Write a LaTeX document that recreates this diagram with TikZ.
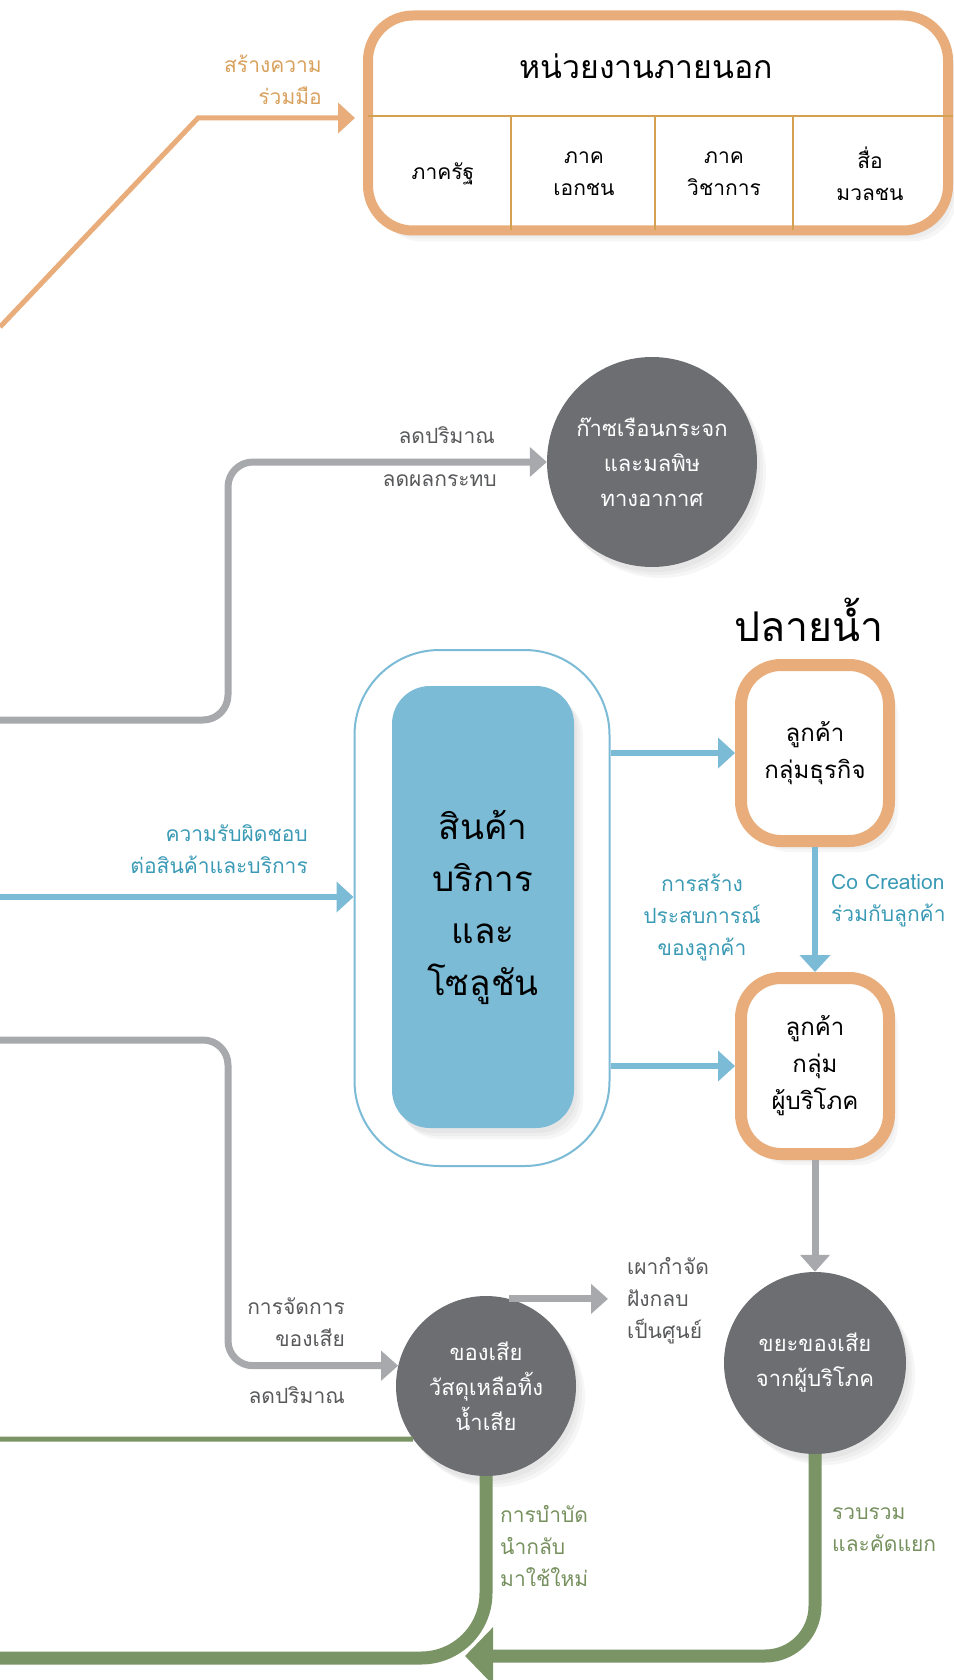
\documentclass[tikz,border=0pt]{standalone}
\usepackage{fontspec}
\setmainfont{Loma}[Script=Thai]
\usetikzlibrary{arrows.meta,calc,positioning,shadows}
\definecolor{extorange}{HTML}{E8AD7B}
\definecolor{extgold}{HTML}{D4A052}
\definecolor{exttext}{HTML}{D9A15E}
\definecolor{prodblue}{HTML}{7BBBD6}
\definecolor{bluetext}{HTML}{3A9AB5}
\definecolor{lgrey}{HTML}{A7A9AC}
\definecolor{dgrey}{HTML}{6D6E71}
\definecolor{greytext}{HTML}{58595B}
\definecolor{wgreen}{HTML}{7A9466}
\definecolor{greentext}{HTML}{76905E}
\newcommand\lblfont{\fontsize{21}{32}\selectfont}
\newcommand\circfont{\fontsize{22}{35}\selectfont}
\newcommand\custfont{\fontsize{24}{37}\selectfont}
\newcommand\headfont{\fontsize{32}{38}\selectfont}
\newcommand\titlefont{\fontsize{41}{48}\selectfont}
\newcommand\prodfont{\fontsize{35}{52}\selectfont}
\tikzset{
  dshadow/.style={drop shadow={opacity=.07,shadow xshift=3pt,shadow yshift=-5pt},
    drop shadow={opacity=.07,shadow xshift=6pt,shadow yshift=-8pt},
    drop shadow={opacity=.07,shadow xshift=9pt,shadow yshift=-11pt}},
  extbox/.style={draw=extorange,line width=10pt,fill=white,rounded corners=45pt,
    minimum width=580pt,minimum height=215pt,dshadow},
  div/.style={draw=extgold,line width=2.5pt},
  cell/.style={align=center,inner sep=0pt,font=\lblfont},
  coarrow/.style={draw=extorange,line width=5pt,-{Triangle[length=17pt,width=30pt]},shorten >=8pt},
  colbl/.style={align=right,inner sep=0pt,text=exttext,font=\lblfont},
  bubble/.style={circle,fill=dgrey,text=white,align=center,inner sep=0pt,font=\circfont,dshadow},
  garrow/.style={draw=lgrey,line width=7pt,rounded corners=25pt,-{Triangle[length=17pt,width=29pt]}},
  glbl/.style={align=right,inner sep=0pt,text=greytext,font=\lblfont},
  outline/.style={draw=prodblue,line width=2pt,rounded corners=85pt,minimum width=255pt,minimum height=516pt},
  prod/.style={fill=prodblue,rounded corners=38pt,minimum width=182pt,minimum height=442pt,
    align=center,font=\prodfont,dshadow},
  cust/.style={draw=extorange,line width=12pt,fill=white,rounded corners=40pt,
    minimum width=148pt,minimum height=176pt,align=center,font=\custfont,dshadow},
  barrow/.style={draw=prodblue,line width=6pt,-{Triangle[length=17pt,width=30pt]}},
  blbl/.style={inner sep=0pt,text=bluetext,font=\lblfont},
  gline/.style={draw=wgreen,line width=5pt},
  gthick/.style={draw=wgreen,line width=13pt},
  grlbl/.style={align=left,inner sep=0pt,text=greentext,font=\lblfont}
}
\begin{document}
\begin{tikzpicture}[x=1pt,y=-1pt]
\useasboundingbox (0,0) rectangle (953,1680);
\node[extbox] (ext) at (658,123) {};
\node[font=\headfont] (exthead) at (646,66) {หน่วยงานภายนอก};
\coordinate (dl) at (368,116);
\draw[div] (dl) -- (dl -| ext.east);
\foreach \x in {511,655,793} \draw[div] (\x,116) -- (\x,230);
\foreach \x/\t [count=\i] in {443/{ภาครัฐ},584/{ภาค\\เอกชน},724/{ภาค\\วิชาการ},870/{สื่อ\\มวลชน}}
  \node[cell] (cell\i) at (\x,174) {\t};
\coordinate (coop) at (0,327);
\coordinate (coopk) at (198,118);
\draw[coarrow] (coop) -- (coopk) -- (coopk -| ext.west);
\node[colbl,anchor=east] (cooplbl) at (322,80) {สร้างความ\\ร่วมมือ};

\node[bubble,minimum size=210pt] (gas) at (652,462) {ก๊าซเรือนกระจก\\และมลพิษ\\ทางอากาศ};
\coordinate (g1) at (0,720);
\draw[garrow] (g1) -- ++(228,0) |- (gas.west);
\node[glbl,anchor=east] (redq) at (495,435) {ลดปริมาณ};
\node[glbl,anchor=east] (redi) at (497,481) {ลดผลกระทบ};

\node[font=\titlefont] (down) at (809,620) {ปลายน้ำ};
\node[outline] (outer) at (482,908) {};
\node[prod] (prod) at (483,907) {สินค้า\\บริการ\\และ\\โซลูชัน};
\node[cust] (biz) at (815,753) {ลูกค้า\\กลุ่มธุรกิจ};
\node[cust] (cons) at (815,1066) {ลูกค้า\\กลุ่ม\\ผู้บริโภค};
\draw[barrow] (outer.east |- biz.west) -- (biz.west);
\draw[barrow] (outer.east |- cons.west) -- (cons.west);
\coordinate (resp) at (0,897);
\draw[barrow] (resp) -- (resp -| outer.west);
\draw[barrow] (biz.south) -- (cons.north);
\node[blbl,anchor=east,align=right] (resplbl) at (308,849) {ความรับผิดชอบ\\ต่อสินค้าและบริการ};
\node[blbl,align=center] (exp) at (702,917) {การสร้าง\\ประสบการณ์\\ของลูกค้า};
\node[blbl,anchor=west,align=left] (cocr) at (831,901) {Co Creation\\ร่วมกับลูกค้า};

\node[bubble,minimum size=180pt] (waste) at (486,1386) {ของเสีย\\วัสดุเหลือทิ้ง\\น้ำเสีย};
\node[bubble,minimum size=182pt] (cw) at (815,1363) {ขยะของเสีย\\จากผู้บริโภค};
\draw[garrow] (cons.south) -- (cw.north);
\coordinate (g2) at (0,1040);
\draw[garrow] (g2) -- ++(228,0) |- (waste.167);
\coordinate (burn) at (608,1300);
\draw[garrow] (waste.75) -- (waste.75 -| burn);
\node[glbl,anchor=east] (mgmt) at (345,1322) {การจัดการ\\ของเสีย};
\node[glbl,anchor=east] (redw) at (345,1395) {ลดปริมาณ};
\node[glbl,anchor=west,align=left] (burnlbl) at (627,1301) {เผากำจัด\\ฝังกลบ\\เป็นศูนย์};

\coordinate (g3) at (0,1439);
\draw[gline] (g3) -- (waste.216);
\coordinate (recyc) at (0,1658);
\draw[gthick,rounded corners=65pt] (waste.south) |- (recyc);
\coordinate (back) at (465,1656);
\draw[gthick,rounded corners=50pt,-{Triangle[length=28pt,width=56pt]}] (cw.south) |- (back);
\node[grlbl,anchor=west] (treat) at (500,1546) {การบำบัด\\นำกลับ\\มาใช้ใหม่};
\node[grlbl,anchor=west] (sort) at (832,1530) {รวบรวม\\และคัดแยก};
\end{tikzpicture}
\end{document}
